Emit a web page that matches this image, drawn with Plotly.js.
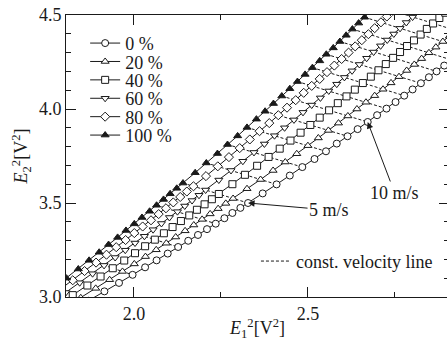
<!DOCTYPE html>
<html><head><meta charset="utf-8">
<script src="https://cdn.plot.ly/plotly-3.0.1.min.js"></script>
<style>html,body{margin:0;padding:0;overflow:hidden;background:#fff;width:447px;height:341px}</style>
</head><body><div id="chart" style="width:449px;height:341px"></div>
<script>
// flow velocity [m/s] of every measured point
const velocity = [1,1.25,1.5,1.75,2,2.25,2.5,2.75,3,3.25,3.5,3.75,4,4.25,4.5,4.75,5,5.5,6,6.5,7,7.5,8,8.5,9,9.5,10,10.5,11,11.5,12,12.5,13,13.5,14,14.5,15,15.5,16,16.5,17,17.5,18];
const seriesNames = ['0 %','20 %','40 %','60 %','80 %','100 %'];
// E1^2 / E2^2 [V^2]
const x0 = [1.818,1.870,1.915,1.957,1.996,2.032,2.065,2.097,2.127,2.156,2.184,2.210,2.235,2.260,2.283,2.306,2.328,2.370,2.410,2.448,2.484,2.519,2.552,2.583,2.614,2.643,2.672,2.699,2.726,2.752,2.777,2.801,2.825,2.848,2.870,2.892,2.913,2.934,2.955,2.974,2.994,3.013,3.031];
const y0 = [2.925,2.980,3.030,3.075,3.118,3.158,3.195,3.231,3.266,3.299,3.330,3.361,3.390,3.419,3.447,3.474,3.500,3.551,3.599,3.646,3.691,3.734,3.775,3.816,3.855,3.893,3.931,3.967,4.002,4.037,4.071,4.104,4.137,4.169,4.200,4.231,4.261,4.291,4.320,4.349,4.378,4.406,4.433];
const x20 = [1.798,1.847,1.890,1.930,1.967,2.001,2.033,2.064,2.093,2.120,2.147,2.172,2.196,2.219,2.242,2.264,2.285,2.325,2.364,2.400,2.435,2.468,2.500,2.530,2.559,2.588,2.615,2.641,2.667,2.692,2.716,2.739,2.762,2.784,2.806,2.827,2.848,2.868,2.888,2.907,2.926,2.944,2.962];
const y20 = [2.940,2.996,3.046,3.092,3.136,3.176,3.215,3.251,3.286,3.319,3.352,3.383,3.413,3.442,3.470,3.498,3.524,3.576,3.625,3.673,3.718,3.762,3.805,3.846,3.886,3.925,3.963,4.000,4.036,4.071,4.105,4.139,4.172,4.205,4.237,4.268,4.299,4.329,4.359,4.388,4.417,4.446,4.474];
const x40 = [1.778,1.824,1.866,1.904,1.939,1.972,2.003,2.032,2.060,2.086,2.111,2.135,2.159,2.181,2.203,2.224,2.244,2.283,2.319,2.354,2.387,2.419,2.450,2.479,2.507,2.534,2.561,2.586,2.611,2.635,2.658,2.681,2.703,2.724,2.745,2.765,2.785,2.805,2.824,2.842,2.860,2.878,2.895];
const y40 = [2.953,3.010,3.061,3.109,3.153,3.194,3.233,3.270,3.305,3.339,3.372,3.404,3.434,3.464,3.493,3.520,3.548,3.600,3.650,3.698,3.745,3.789,3.832,3.874,3.915,3.954,3.993,4.031,4.067,4.103,4.138,4.172,4.206,4.239,4.272,4.303,4.335,4.365,4.396,4.426,4.455,4.484,4.512];
const x60 = [1.760,1.804,1.844,1.881,1.914,1.946,1.975,2.003,2.030,2.055,2.079,2.102,2.125,2.146,2.167,2.187,2.206,2.244,2.279,2.313,2.345,2.375,2.404,2.433,2.460,2.486,2.511,2.536,2.560,2.583,2.605,2.627,2.648,2.669,2.689,2.709,2.728,2.747,2.765,2.783,2.801,2.818,2.835];
const y60 = [2.966,3.024,3.076,3.124,3.168,3.210,3.249,3.287,3.323,3.358,3.391,3.423,3.454,3.484,3.513,3.541,3.569,3.622,3.673,3.722,3.769,3.814,3.858,3.900,3.942,3.982,4.021,4.059,4.096,4.132,4.168,4.203,4.237,4.270,4.303,4.336,4.367,4.399,4.429,4.460,4.489,4.519,4.548];
const x80 = [1.743,1.785,1.824,1.858,1.891,1.921,1.949,1.976,2.001,2.025,2.049,2.071,2.092,2.113,2.133,2.152,2.171,2.207,2.241,2.273,2.304,2.333,2.361,2.389,2.415,2.440,2.465,2.488,2.511,2.534,2.555,2.576,2.597,2.617,2.636,2.655,2.674,2.692,2.710,2.727,2.744,2.761,2.777];
const y80 = [2.978,3.036,3.089,3.138,3.183,3.225,3.265,3.303,3.340,3.375,3.408,3.441,3.472,3.503,3.532,3.561,3.589,3.643,3.695,3.744,3.792,3.838,3.882,3.925,3.967,4.007,4.047,4.086,4.123,4.160,4.196,4.231,4.266,4.300,4.333,4.366,4.398,4.430,4.461,4.492,4.522,4.552,4.581];
const x100 = [1.728,1.769,1.806,1.840,1.871,1.900,1.927,1.953,1.977,2.001,2.023,2.045,2.065,2.085,2.104,2.123,2.141,2.176,2.208,2.240,2.269,2.298,2.325,2.352,2.377,2.401,2.425,2.448,2.470,2.492,2.513,2.534,2.553,2.573,2.592,2.610,2.628,2.646,2.663,2.680,2.697,2.713,2.729];
const y100 = [2.988,3.047,3.100,3.149,3.195,3.238,3.279,3.317,3.354,3.389,3.423,3.456,3.488,3.519,3.549,3.578,3.606,3.661,3.713,3.763,3.811,3.857,3.902,3.946,3.988,4.029,4.069,4.108,4.146,4.184,4.220,4.256,4.291,4.325,4.359,4.392,4.425,4.457,4.488,4.519,4.550,4.580,4.609];
const xTickVals = [2.0, 2.5];
const yTickVals = [3.0, 3.5, 4.0, 4.5];
const arrowLabels = [{v: 5, text: '5 m/s'}, {v: 10, text: '10 m/s'}];

const FONT = 'Liberation Serif, "Times New Roman", serif';
const FS = 18;
const INK = '#1a1a1a';
const xs = [x0, x20, x40, x60, x80, x100];
const ys = [y0, y20, y40, y60, y80, y100];
const symbols = ['circle', 'triangle-up', 'square', 'triangle-down', 'diamond', 'triangle-up'];
const fills = ['white', 'white', 'white', 'white', 'white', INK];

// constant velocity lines: join points of equal (integer) velocity across the series
const cvx = [], cvy = [];
velocity.forEach((v, i) => {
  if (!Number.isInteger(v)) return;
  for (let s = xs.length - 1; s >= 0; s--) { cvx.push(xs[s][i]); cvy.push(ys[s][i]); }
  cvx.push(null); cvy.push(null);
});

const traces = [{
  x: cvx, y: cvy, mode: 'lines', name: 'const. velocity line', legend: 'legend2',
  line: {color: INK, width: 1, dash: '3px,2px'}, connectgaps: false, hoverinfo: 'skip'
}];
seriesNames.forEach((n, s) => {
  traces.push({
    x: xs[s], y: ys[s], mode: 'lines+markers', name: n,
    line: {color: INK, width: 1},
    marker: {symbol: symbols[s], size: 7, color: fills[s], line: {color: INK, width: 1}}
  });
});

const annotations = arrowLabels.map((a, k) => {
  const i = velocity.indexOf(a.v);
  return {
    x: x0[i], y: y0[i], xref: 'x', yref: 'y', text: a.text, showarrow: true,
    arrowhead: 2, arrowsize: 1.3, arrowwidth: 1, arrowcolor: INK, standoff: 0,
    ax: k === 0 ? 81 : 27, ay: k === 0 ? 7 : 71,
    font: {family: FONT, size: FS, color: INK}
  };
});

const axisCommon = {
  ticks: 'inside', ticklen: 10, tickwidth: 1, tickcolor: INK,
  showline: true, linecolor: INK, linewidth: 1, mirror: 'ticks',
  showgrid: false, zeroline: false, tickformat: '.1f',
  tickfont: {family: FONT, size: FS, color: INK}
};

const layout = {
  width: 449, height: 341,
  margin: {l: 66, r: 0, t: 15, b: 44},
  paper_bgcolor: 'white', plot_bgcolor: 'white',
  font: {family: FONT, size: FS, color: INK},
  showlegend: true,
  xaxis: Object.assign({}, axisCommon, {
    range: [1.8046, 2.9057], tickmode: 'array', tickvals: xTickVals,
    minor: {dtick: 0.25, tick0: 0, ticks: 'inside', ticklen: 5, tickcolor: INK, showgrid: false},
    title: {text: '<i>E</i><sub>1</sub><sup>2</sup>[V<sup>2</sup>]', font: {family: FONT, size: FS, color: INK}, standoff: 1}
  }),
  yaxis: Object.assign({}, axisCommon, {
    range: [3.0, 4.5], tickmode: 'array', tickvals: yTickVals,
    minor: {dtick: 0.1, tick0: 0, ticks: 'inside', ticklen: 5, tickcolor: INK, showgrid: false},
    title: {text: '<i>E</i><sub>2</sub><sup>2</sup>[V<sup>2</sup>]', font: {family: FONT, size: FS, color: INK}, standoff: 6}
  }),
  legend: {x: 0.05, y: 0.965, xanchor: 'left', yanchor: 'top', bgcolor: 'rgba(0,0,0,0)',
    font: {family: FONT, size: FS, color: INK}, tracegroupgap: 0, itemwidth: 30},
  legend2: {x: 0.496, y: 0.192, xanchor: 'left', yanchor: 'top', bgcolor: 'rgba(0,0,0,0)',
    font: {family: FONT, size: FS, color: INK}},
  annotations: annotations
};

const gd = document.getElementById('chart');
Plotly.newPlot(gd, traces, layout, {staticPlot: true, displayModeBar: false}).then(() => {
  // tighten the vertical pitch of the main legend entries (reference spacing ≈ 18.4 px)
  const leg = gd.querySelector('g.legend');
  if (!leg) return;
  const items = leg.querySelectorAll('g.traces');
  let y0Item = null;
  items.forEach((g, i) => {
    const m = /translate\(\s*([-\d.]+)[ ,]+([-\d.]+)\s*\)/.exec(g.getAttribute('transform') || '');
    if (!m) return;
    if (y0Item === null) y0Item = parseFloat(m[2]);
    g.setAttribute('transform', 'translate(' + m[1] + ',' + (y0Item + i * 18.4) + ')');
  });
});
</script></body></html>
